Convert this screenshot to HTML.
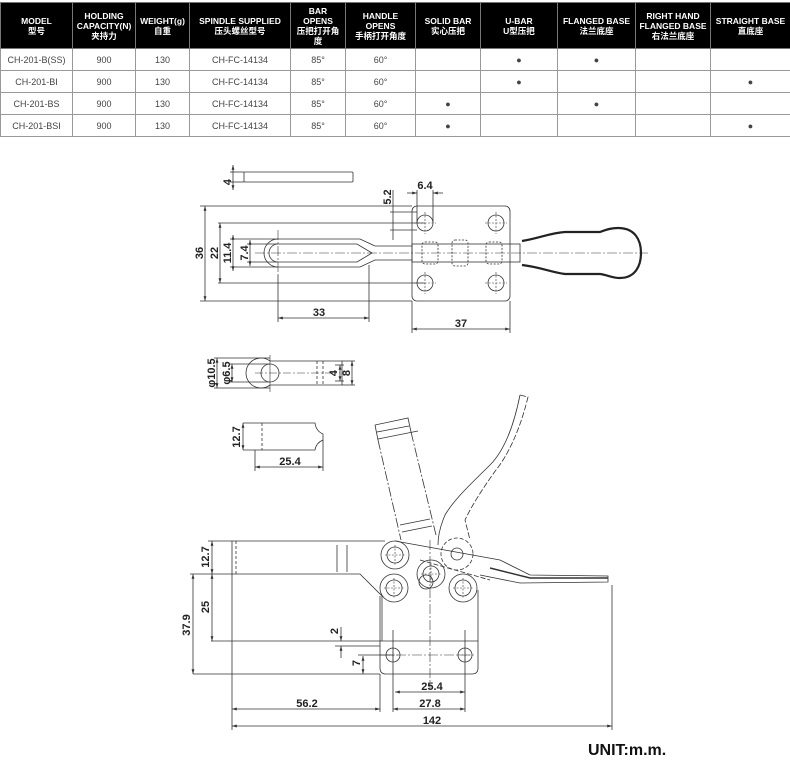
<!DOCTYPE html>
<html><head><meta charset="utf-8"><style>
body{margin:0;background:#fff;width:790px;height:775px;position:relative;overflow:hidden;font-family:"Liberation Sans","Noto Sans CJK SC",sans-serif}
table{position:absolute;left:0;top:2px;border-collapse:collapse;table-layout:fixed;width:790px}
td,th{border:1px solid #999;text-align:center;padding:0;font-size:9px;color:#444;height:21px}
th{background:#000;color:#fff;font-weight:bold;font-size:8.5px;line-height:10px;height:45px;border-color:#777}
svg{position:absolute;left:0;top:0}
.u{position:absolute;left:588px;top:742px;font-weight:bold;font-size:16px;color:#111}
</style></head><body>
<table>
<colgroup><col style="width:72px"><col style="width:63px"><col style="width:54px"><col style="width:101px"><col style="width:55px"><col style="width:70px"><col style="width:65px"><col style="width:77px"><col style="width:78px"><col style="width:75px"><col style="width:80px"></colgroup>
<tr><th>MODEL<br>型号</th><th>HOLDING<br>CAPACITY(N)<br>夹持力</th><th>WEIGHT(g)<br>自重</th><th>SPINDLE SUPPLIED<br>压头螺丝型号</th><th>BAR<br>OPENS<br>压把打开角<br>度</th><th>HANDLE<br>OPENS<br>手柄打开角度</th><th>SOLID BAR<br>实心压把</th><th>U-BAR<br>U型压把</th><th>FLANGED BASE<br>法兰底座</th><th>RIGHT HAND<br>FLANGED BASE<br>右法兰底座</th><th>STRAIGHT BASE<br>直底座</th></tr>
<tr><td>CH-201-B(SS)</td><td>900</td><td>130</td><td>CH-FC-14134</td><td>85°</td><td>60°</td><td></td><td>●</td><td>●</td><td></td><td></td></tr>
<tr><td>CH-201-BI</td><td>900</td><td>130</td><td>CH-FC-14134</td><td>85°</td><td>60°</td><td></td><td>●</td><td></td><td></td><td>●</td></tr>
<tr><td>CH-201-BS</td><td>900</td><td>130</td><td>CH-FC-14134</td><td>85°</td><td>60°</td><td>●</td><td></td><td>●</td><td></td><td></td></tr>
<tr><td>CH-201-BSI</td><td>900</td><td>130</td><td>CH-FC-14134</td><td>85°</td><td>60°</td><td>●</td><td></td><td></td><td></td><td>●</td></tr>
</table>
<svg width="790" height="775" viewBox="0 0 790 775" font-family="Liberation Sans, sans-serif" font-weight="bold" font-size="11" fill="none" stroke="#333" stroke-width="0.8">
<defs><marker id="a" viewBox="0 0 10 10" refX="10" refY="5" markerWidth="6" markerHeight="6" orient="auto-start-reverse"><path d="M0,2 L10,5 L0,8z" fill="#333" stroke="none"/></marker></defs>
<g stroke-dasharray="10 2 2 2" stroke-width="0.6">
<line x1="255" y1="253" x2="648" y2="253"/>
<line x1="278" y1="230" x2="278" y2="275"/>
<line x1="430" y1="540" x2="430" y2="690"/>
<line x1="380" y1="655" x2="475" y2="655"/>
</g>
<!-- top view -->
<rect x="244" y="172" width="109" height="10" rx="1"/>
<line x1="233" y1="165" x2="233" y2="190" marker-start="url(#a)" marker-end="url(#a)"/>
<line x1="230" y1="172" x2="244" y2="172"/><line x1="230" y1="182" x2="244" y2="182"/>
<rect x="412" y="206" width="98" height="95" rx="5"/>
<circle cx="425" cy="223" r="8"/><circle cx="496" cy="223" r="8"/><circle cx="425" cy="283" r="8"/><circle cx="496" cy="283" r="8"/>
<g stroke-dasharray="2 1.5" stroke-width="0.6">
<path d="M414,223 h22 M425,212 v22 M485,223 h22 M496,212 v22 M414,283 h22 M425,272 v22 M485,283 h22 M496,272 v22"/>
</g>
<path d="M375,246 L360,239 L278,239 A14,14 0 0 0 278,267 L360,267 L375,260 L412,260 M375,246 L412,246"/>
<path d="M278,244 A9,9 0 0 0 278,262 L357,262 L372,253 L357,244 Z"/>
<rect x="412" y="244" width="108" height="18"/>
<g stroke-dasharray="2 1.5"><rect x="422" y="242" width="16" height="22" rx="3"/><rect x="452" y="240" width="16" height="26" rx="3"/><rect x="486" y="242" width="16" height="22" rx="3"/></g>
<path d="M522,241 C540,238 550,233 565,232 L600,232 C608,229 612,228 618,228 C635,228 641,240 641,253 C641,266 635,278 620,278 C612,278 608,275 600,274 L565,274 C550,272 540,267 522,265" stroke-width="2.2" stroke="#222"/>
<line x1="205" y1="206" x2="205" y2="301" marker-start="url(#a)" marker-end="url(#a)"/>
<line x1="200" y1="206" x2="412" y2="206"/><line x1="200" y1="301" x2="412" y2="301"/>
<line x1="220" y1="223" x2="220" y2="283" marker-start="url(#a)" marker-end="url(#a)"/>
<line x1="218" y1="223" x2="425" y2="223"/><line x1="218" y1="283" x2="425" y2="283"/>
<line x1="233" y1="235" x2="233" y2="271" marker-start="url(#a)" marker-end="url(#a)"/>
<line x1="230" y1="239" x2="278" y2="239"/><line x1="230" y1="267" x2="278" y2="267"/>
<line x1="250" y1="240" x2="250" y2="266" marker-start="url(#a)" marker-end="url(#a)"/>
<line x1="247" y1="244" x2="278" y2="244"/><line x1="247" y1="262" x2="278" y2="262"/>
<line x1="278" y1="275" x2="278" y2="322"/><line x1="369" y1="265" x2="369" y2="322"/>
<line x1="278" y1="318" x2="369" y2="318" marker-start="url(#a)" marker-end="url(#a)"/>
<line x1="412" y1="301" x2="412" y2="333"/><line x1="510" y1="301" x2="510" y2="333"/>
<line x1="412" y1="329" x2="510" y2="329" marker-start="url(#a)" marker-end="url(#a)"/>
<line x1="417" y1="190" x2="417" y2="223"/><line x1="433" y1="190" x2="433" y2="223"/>
<line x1="407" y1="193" x2="417" y2="193" marker-end="url(#a)"/><line x1="443" y1="193" x2="433" y2="193" marker-end="url(#a)"/>
<line x1="393" y1="190" x2="393" y2="240"/><line x1="390" y1="212" x2="417" y2="212"/><line x1="390" y1="230" x2="417" y2="230"/>
<g fill="#222" stroke="none">
<text transform="translate(231,182) rotate(-90)" text-anchor="middle">4</text>
<text transform="translate(203,253) rotate(-90)" text-anchor="middle">36</text>
<text transform="translate(218,253) rotate(-90)" text-anchor="middle">22</text>
<text transform="translate(231,253) rotate(-90)" text-anchor="middle">11.4</text>
<text transform="translate(248,253) rotate(-90)" text-anchor="middle">7.4</text>
<text transform="translate(391,197) rotate(-90)" text-anchor="middle">5.2</text>
<text x="425" y="189" text-anchor="middle">6.4</text>
<text x="319" y="316" text-anchor="middle">33</text>
<text x="461" y="327" text-anchor="middle">37</text>
</g>
<!-- eye part -->
<path d="M270,361 L342,361 L342,385 L270,385 M270,361 A15,15 0 1 0 270,385"/>
<circle cx="270" cy="373" r="9"/>
<line x1="255" y1="373" x2="340" y2="373" stroke-dasharray="8 2 2 2" stroke-width="0.6"/>
<line x1="270" y1="355" x2="270" y2="392" stroke-width="0.6"/>
<line x1="317" y1="361" x2="317" y2="385" stroke-dasharray="3 2"/><line x1="323" y1="361" x2="323" y2="385" stroke-dasharray="3 2"/>
<line x1="214" y1="358" x2="270" y2="358"/><line x1="214" y1="388" x2="270" y2="388"/>
<line x1="217" y1="358" x2="217" y2="388" marker-start="url(#a)" marker-end="url(#a)"/>
<line x1="230" y1="364" x2="270" y2="364"/><line x1="230" y1="382" x2="270" y2="382"/>
<line x1="232" y1="364" x2="232" y2="382" marker-start="url(#a)" marker-end="url(#a)"/>
<line x1="340" y1="365" x2="340" y2="381" marker-start="url(#a)" marker-end="url(#a)"/>
<line x1="335" y1="365" x2="344" y2="365"/><line x1="335" y1="381" x2="344" y2="381"/>
<line x1="352" y1="361" x2="352" y2="385" marker-start="url(#a)" marker-end="url(#a)"/>
<line x1="342" y1="361" x2="355" y2="361"/><line x1="342" y1="385" x2="355" y2="385"/>
<!-- block -->
<path d="M243,423 L315,423 Q316,431 323,434 L323,440 Q316,443 315,450 L243,450"/>
<line x1="262" y1="423" x2="262" y2="450" stroke-dasharray="3 2"/>
<line x1="243" y1="423" x2="243" y2="450" marker-start="url(#a)" marker-end="url(#a)"/>
<line x1="255" y1="450" x2="255" y2="471"/><line x1="323" y1="440" x2="323" y2="471"/>
<line x1="255" y1="467" x2="323" y2="467" marker-start="url(#a)" marker-end="url(#a)"/>
<g fill="#222" stroke="none">
<text transform="translate(215,373) rotate(-90)" text-anchor="middle">φ10.5</text>
<text transform="translate(230,373) rotate(-90)" text-anchor="middle">φ6.5</text>
<text transform="translate(337,373) rotate(-90)" text-anchor="middle">4</text>
<text transform="translate(350,373) rotate(-90)" text-anchor="middle">8</text>
<text transform="translate(240,437) rotate(-90)" text-anchor="middle">12.7</text>
<text x="290" y="465" text-anchor="middle">25.4</text>
</g>
<!-- side view -->
<path d="M375,425 L408,418 L411,432 M375,425 L378,440 M377,432 L409,426 M378,439 L418,431"/>
<g stroke-dasharray="10 2 2 2"><line x1="378" y1="440" x2="401" y2="540"/><line x1="411" y1="432" x2="436" y2="535"/></g>
<path d="M400,525 L430,519 M402,532 L432,526"/>
<path d="M520,395 L528,397 C520,430 508,455 496,470 C485,485 472,505 465,520 L470,540" stroke-dasharray="6 2"/>
<path d="M520,395 C514,425 505,450 490,465 C475,480 455,498 445,515 L443,520 C440,528 438,538 438,545"/>
<path d="M232,541 L385,541 M232,574 L360,574 L382,596 L382,641 M232,541 L232,574" />
<line x1="236" y1="541" x2="236" y2="574" stroke-dasharray="3 2"/>
<line x1="337" y1="545" x2="337" y2="572"/><line x1="347" y1="545" x2="347" y2="572"/>
<path d="M380,596 L380,668 Q380,674 386,674 L472,674 Q478,674 478,668 L478,590"/>
<line x1="211" y1="641" x2="478" y2="641"/><line x1="193" y1="674" x2="380" y2="674"/>
<line x1="232" y1="574" x2="232" y2="730"/>
<circle cx="395" cy="555" r="14"/><circle cx="395" cy="555" r="8"/>
<circle cx="394" cy="588" r="14"/><circle cx="394" cy="588" r="8"/>
<circle cx="431" cy="574" r="14"/><circle cx="431" cy="574" r="8"/><circle cx="426" cy="582" r="7"/>
<circle cx="463" cy="588" r="14"/><circle cx="463" cy="588" r="8"/>
<circle cx="457" cy="554" r="16" stroke-dasharray="4 2"/><circle cx="457" cy="554" r="6"/>
<g stroke-dasharray="2 1.5" stroke-width="0.6">
<path d="M385,555 h20 M395,545 v20 M384,588 h20 M394,578 v20 M421,574 h20 M431,564 v20 M453,588 h20 M463,578 v20 M386,655 h14 M393,648 v14 M458,655 h14 M465,648 v14"/>
</g>
<path d="M395,541 L500,560 L530,575 L608,576 L608,582 L520,583 L480,575"/>
<path d="M490,568 L530,578 L608,578" stroke-width="1.5"/>
<path d="M420,560 L490,580" stroke-dasharray="5 2"/>
<circle cx="393" cy="655" r="7"/><circle cx="465" cy="655" r="7"/>
<line x1="612" y1="585" x2="612" y2="730"/>
<line x1="393" y1="630" x2="393" y2="712"/><line x1="465" y1="630" x2="465" y2="712"/>
<line x1="380" y1="674" x2="380" y2="712"/>
<line x1="212" y1="541" x2="212" y2="574" marker-start="url(#a)" marker-end="url(#a)"/>
<line x1="208" y1="541" x2="232" y2="541"/><line x1="190" y1="574" x2="232" y2="574"/>
<line x1="212" y1="574" x2="212" y2="641" marker-start="url(#a)" marker-end="url(#a)"/>
<line x1="193" y1="574" x2="193" y2="674" marker-start="url(#a)" marker-end="url(#a)"/>
<line x1="341" y1="627" x2="341" y2="641" marker-end="url(#a)"/><line x1="341" y1="658" x2="341" y2="646" marker-end="url(#a)"/>
<line x1="335" y1="646" x2="380" y2="646"/>
<line x1="363" y1="656" x2="363" y2="674" marker-start="url(#a)" marker-end="url(#a)"/><line x1="358" y1="655" x2="393" y2="655"/>
<line x1="395" y1="692" x2="465" y2="692" marker-start="url(#a)" marker-end="url(#a)"/>
<line x1="393" y1="709" x2="465" y2="709" marker-start="url(#a)" marker-end="url(#a)"/>
<line x1="232" y1="709" x2="380" y2="709" marker-start="url(#a)" marker-end="url(#a)"/>
<line x1="232" y1="726" x2="612" y2="726" marker-start="url(#a)" marker-end="url(#a)"/>
<g fill="#222" stroke="none">
<text transform="translate(209,557) rotate(-90)" text-anchor="middle">12.7</text>
<text transform="translate(209,607) rotate(-90)" text-anchor="middle">25</text>
<text transform="translate(190,625) rotate(-90)" text-anchor="middle">37.9</text>
<text transform="translate(338,631) rotate(-90)" text-anchor="middle">2</text>
<text transform="translate(360,663) rotate(-90)" text-anchor="middle">7</text>
<text x="432" y="690" text-anchor="middle">25.4</text>
<text x="430" y="707" text-anchor="middle">27.8</text>
<text x="307" y="707" text-anchor="middle">56.2</text>
<text x="432" y="724" text-anchor="middle">142</text>
</g>
</svg>
<div class="u">UNIT:m.m.</div>
</body></html>
